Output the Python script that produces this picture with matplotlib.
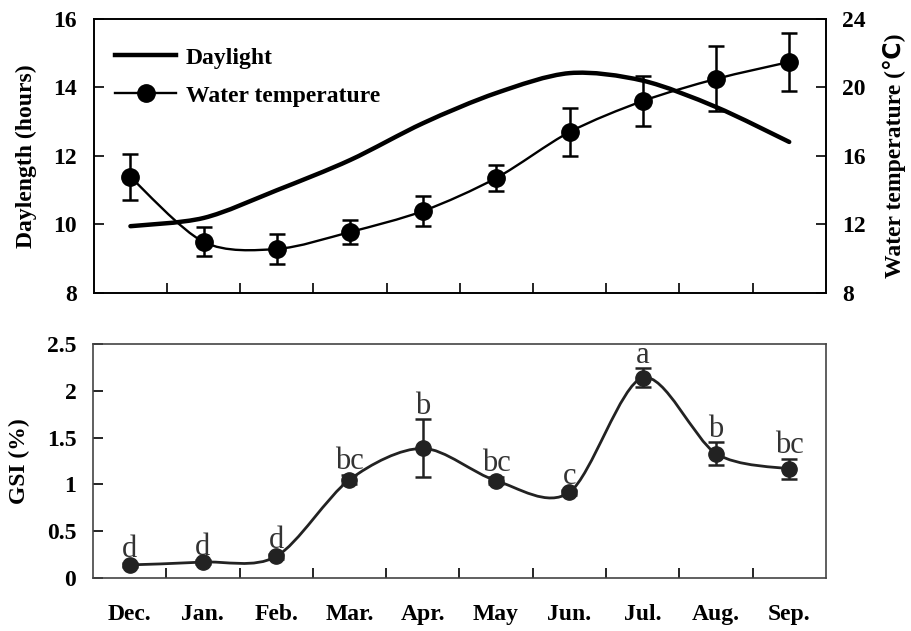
import numpy as np
import matplotlib
matplotlib.use('Agg')
import matplotlib.pyplot as plt
from matplotlib.path import Path
from matplotlib.patches import PathPatch
from matplotlib.lines import Line2D

plt.rcParams['font.family'] = ['Liberation Serif', 'DejaVu Sans']

months = ['Dec.', 'Jan.', 'Feb.', 'Mar.', 'Apr.', 'May', 'Jun.', 'Jul.', 'Aug.', 'Sep.']
daylength = [9.95, 10.19, 11.0, 11.88, 12.96, 13.84, 14.42, 14.2, 13.43, 12.41]
water_temp = [14.77, 10.98, 10.57, 11.56, 12.79, 14.72, 17.4, 19.21, 20.5, 21.49]
water_err = [1.35, 0.85, 0.85, 0.7, 0.85, 0.75, 1.4, 1.45, 1.9, 1.7]
gsi = [0.14, 0.17, 0.23, 1.05, 1.385, 1.04, 0.915, 2.14, 1.33, 1.165]
gsi_err = [0.02, 0.02, 0.03, 0.05, 0.31, 0.04, 0.03, 0.1, 0.12, 0.11]
gsi_letters = ['d', 'd', 'd', 'bc', 'b', 'bc', 'c', 'a', 'b', 'bc']

x = np.arange(len(months))


def smooth_path(xs, ys, t=0.15):
    # excel style smoothed line as cubic bezier segments through the points
    p = np.column_stack([xs, ys]).astype(float)
    n = len(p)
    verts = [p[0]]
    codes = [Path.MOVETO]
    for i in range(n - 1):
        p0 = p[i - 1] if i > 0 else p[i]
        p3 = p[i + 2] if i + 2 < n else p[i + 1]
        c1 = p[i] + (p[i + 1] - p0) * t
        c2 = p[i + 1] - (p3 - p[i]) * t
        verts += [c1, c2, p[i + 1]]
        codes += [Path.CURVE4] * 3
    return Path(verts, codes)


fig = plt.figure(figsize=(9.11, 6.31), dpi=100)
ax1 = fig.add_axes([0.103, 0.5357, 0.8035, 0.4342])
ax2 = ax1.twinx()
ax3 = fig.add_axes([0.102, 0.084, 0.8046, 0.3708])

fs = 17
# --- top panel
ax1.add_patch(PathPatch(smooth_path(x, daylength), fill=False, lw=3.2, ec='black',
                        capstyle='round', zorder=3))
ax2.add_patch(PathPatch(smooth_path(x, water_temp), fill=False, lw=1.7, ec='black', zorder=3))
ax2.errorbar(x, water_temp, yerr=water_err, fmt='o', color='black', ms=12.5,
             elinewidth=1.8, capsize=6, capthick=1.8, zorder=4)

ax1.set_xlim(-0.5, 9.5)
ax1.set_ylim(8, 16)
ax1.set_yticks([8, 10, 12, 14, 16])
ax2.set_ylim(8, 24)
ax2.set_yticks([8, 12, 16, 20, 24])
ax1.set_xticks(x[:-1] + 0.5)
ax1.set_xticklabels([])
ax1.tick_params(axis='both', direction='in', length=7, width=1.2, labelsize=fs, pad=12)
ax2.tick_params(axis='y', direction='in', length=7, width=1.2, labelsize=fs, pad=12)
for a in (ax1, ax2):
    for lab in a.get_yticklabels():
        lab.set_fontweight('bold')
    for s in a.spines.values():
        s.set_linewidth(1.2)
ax1.set_ylabel('Daylength (hours)', fontsize=fs, fontweight='bold', labelpad=12)
ax2.set_ylabel('Water temperature (℃)', fontsize=fs, fontweight='bold', labelpad=12)

handles = [Line2D([], [], color='black', lw=3.2),
           Line2D([], [], color='black', lw=1.7, marker='o', ms=12.5)]
ax1.legend(handles, ['Daylight', 'Water temperature'], loc='upper left', frameon=False,
           prop={'size': fs, 'weight': 'bold'}, handlelength=2.6, handletextpad=0.4,
           labelspacing=0.7, bbox_to_anchor=(0.0, 0.975))

# --- bottom panel
gray = '#222222'
ax3.add_patch(PathPatch(smooth_path(x, gsi), fill=False, lw=2, ec=gray, zorder=3))
ax3.errorbar(x, gsi, yerr=gsi_err, fmt='o', color=gray, ms=11,
             elinewidth=1.8, capsize=6, capthick=1.8, zorder=4)
for xi, yi, ei, lab in zip(x, gsi, gsi_err, gsi_letters):
    ax3.annotate(lab, (xi, yi + ei), xytext=(0, 4), textcoords='offset points',
                 ha='center', va='baseline', fontsize=22, color='#333333')

ax3.set_xlim(-0.5, 9.5)
ax3.set_ylim(0, 2.5)
ax3.set_yticks([0, 0.5, 1, 1.5, 2, 2.5])
ax3.set_yticklabels(['0', '0.5', '1', '1.5', '2', '2.5'])
ax3.set_xticks(x)
ax3.set_xticklabels(months)
ax3.set_xticks(x[:-1] + 0.5, minor=True)
ax3.tick_params(axis='x', which='major', length=0, labelsize=fs, pad=19)
ax3.tick_params(axis='x', which='minor', direction='in', length=7, width=1.2)
ax3.tick_params(axis='y', direction='in', length=7, width=1.2, labelsize=fs, pad=12)
for lab in ax3.get_xticklabels() + ax3.get_yticklabels():
    lab.set_fontweight('bold')
for s in ax3.spines.values():
    s.set_linewidth(1.2)
    s.set_color('#444444')
ax3.set_ylabel('GSI (%)', fontsize=fs, fontweight='bold', labelpad=12)

fig.savefig('out.png', dpi=100)
